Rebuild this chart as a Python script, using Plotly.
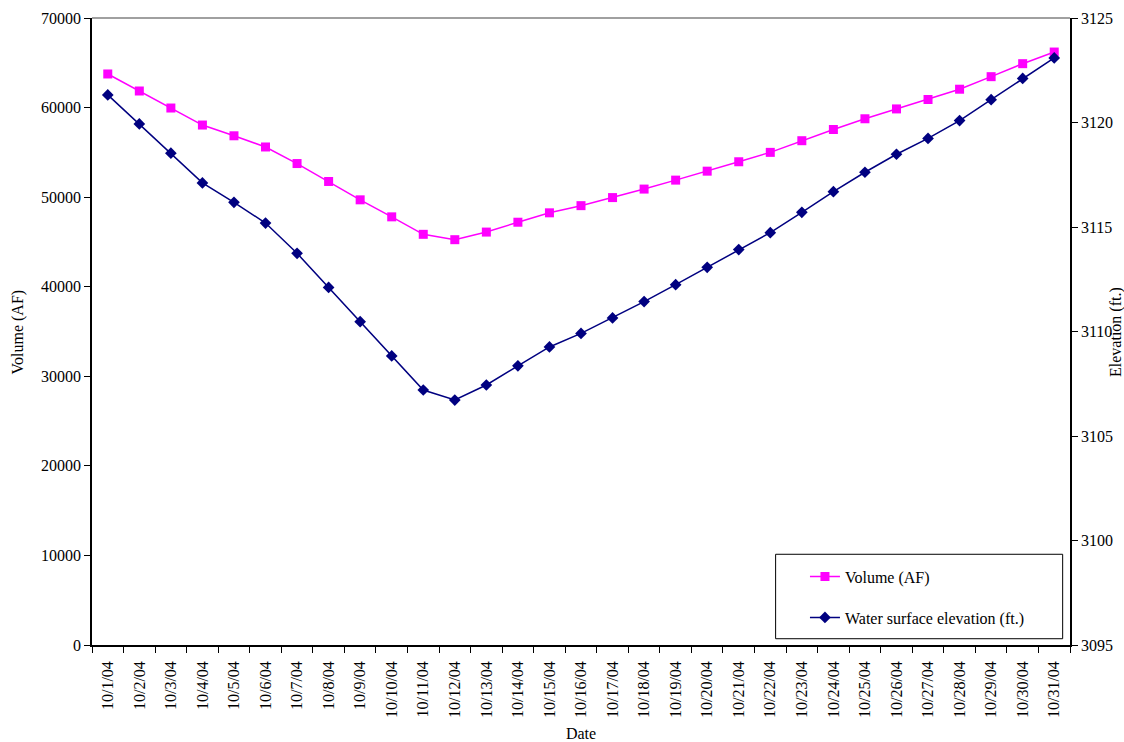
import plotly.graph_objects as go

dates = ["10/1/04", "10/2/04", "10/3/04", "10/4/04", "10/5/04", "10/6/04", "10/7/04",
         "10/8/04", "10/9/04", "10/10/04", "10/11/04", "10/12/04", "10/13/04", "10/14/04",
         "10/15/04", "10/16/04", "10/17/04", "10/18/04", "10/19/04", "10/20/04", "10/21/04",
         "10/22/04", "10/23/04", "10/24/04", "10/25/04", "10/26/04", "10/27/04", "10/28/04",
         "10/29/04", "10/30/04", "10/31/04"]

volume_af = [63750, 61850, 59950, 58050, 56850, 55600, 53750, 51750, 49700, 47800,
             45850, 45250, 46100, 47200, 48250, 49050, 49950, 50900, 51900, 52900,
             53950, 55000, 56300, 57550, 58750, 59850, 60900, 62050, 63450, 64900, 66200]

elevation_ft = [3121.32, 3119.93, 3118.53, 3117.11, 3116.18, 3115.19, 3113.74, 3112.11,
                3110.47, 3108.83, 3107.20, 3106.72, 3107.44, 3108.36, 3109.26, 3109.91,
                3110.65, 3111.43, 3112.24, 3113.07, 3113.92, 3114.73, 3115.70, 3116.69,
                3117.62, 3118.48, 3119.24, 3120.09, 3121.09, 3122.11, 3123.09]

FONT = "Liberation Serif, Times New Roman, serif"
FS = 16

fig = go.Figure()
fig.add_trace(go.Scatter(
    x=dates, y=volume_af, name="Volume (AF)", mode="lines+markers",
    line=dict(color="#FF00FF", width=1.5),
    marker=dict(symbol="square", size=9, color="#FF00FF"),
    legendgroup="a", yaxis="y"))
fig.add_trace(go.Scatter(
    x=dates, y=elevation_ft, name="Water surface elevation (ft.)", mode="lines+markers",
    line=dict(color="#000080", width=1.5),
    marker=dict(symbol="diamond", size=9, color="#000080"),
    legendgroup="b", yaxis="y2"))

axis_common = dict(showgrid=False, zeroline=False, showline=True, linecolor="black",
                   linewidth=1.5, ticks="outside", ticklen=6, tickcolor="black",
                   tickwidth=1, tickfont=dict(family=FONT, size=FS, color="black"))

fig.update_layout(
    width=1124, height=742,
    margin=dict(l=92, r=54, t=18, b=97, autoexpand=False),
    paper_bgcolor="white", plot_bgcolor="white",
    font=dict(family=FONT, size=FS, color="black"),
    xaxis=dict(**axis_common, type="category", tickson="boundaries", tickangle=-90,
               range=[-0.5, len(dates) - 0.5], ticklabelstandoff=8,
               title=dict(text="Date", font=dict(family=FONT, size=FS), standoff=12),
               automargin=False),
    yaxis=dict(**axis_common, range=[0, 70000], dtick=10000, tickformat="d",
               automargin=False),
    yaxis2=dict(**axis_common, range=[3095, 3125], dtick=5, overlaying="y",
                side="right", tickformat="d", automargin=False),
    legend=dict(x=0.729, y=0.0164, xanchor="left", yanchor="bottom",
                borderwidth=0, bgcolor="rgba(0,0,0,0)",
                font=dict(family=FONT, size=FS), tracegroupgap=17, itemwidth=30),
    showlegend=True,
    shapes=[dict(type="line", xref="paper", yref="paper", x0=0, x1=1, y0=1, y1=1,
                 line=dict(color="#808080", width=1.5)),
            dict(type="rect", xref="paper", yref="paper", x0=0.699, x1=0.9925,
                 y0=0.01, y1=0.1447, line=dict(color="black", width=1),
                 fillcolor="white", layer="below")],
    annotations=[
        dict(text="Volume (AF)", xref="paper", yref="paper", x=-0.0757, y=0.5,
             textangle=-90, showarrow=False, xanchor="center", yanchor="middle",
             font=dict(family=FONT, size=FS)),
        dict(text="Elevation (ft.)", xref="paper", yref="paper", x=1.0465, y=0.5,
             textangle=-90, showarrow=False, xanchor="center", yanchor="middle",
             font=dict(family=FONT, size=FS)),
    ],
)

fig.write_html("out.html", config={"displayModeBar": False},
               post_script="document.body.style.margin='0px';")
